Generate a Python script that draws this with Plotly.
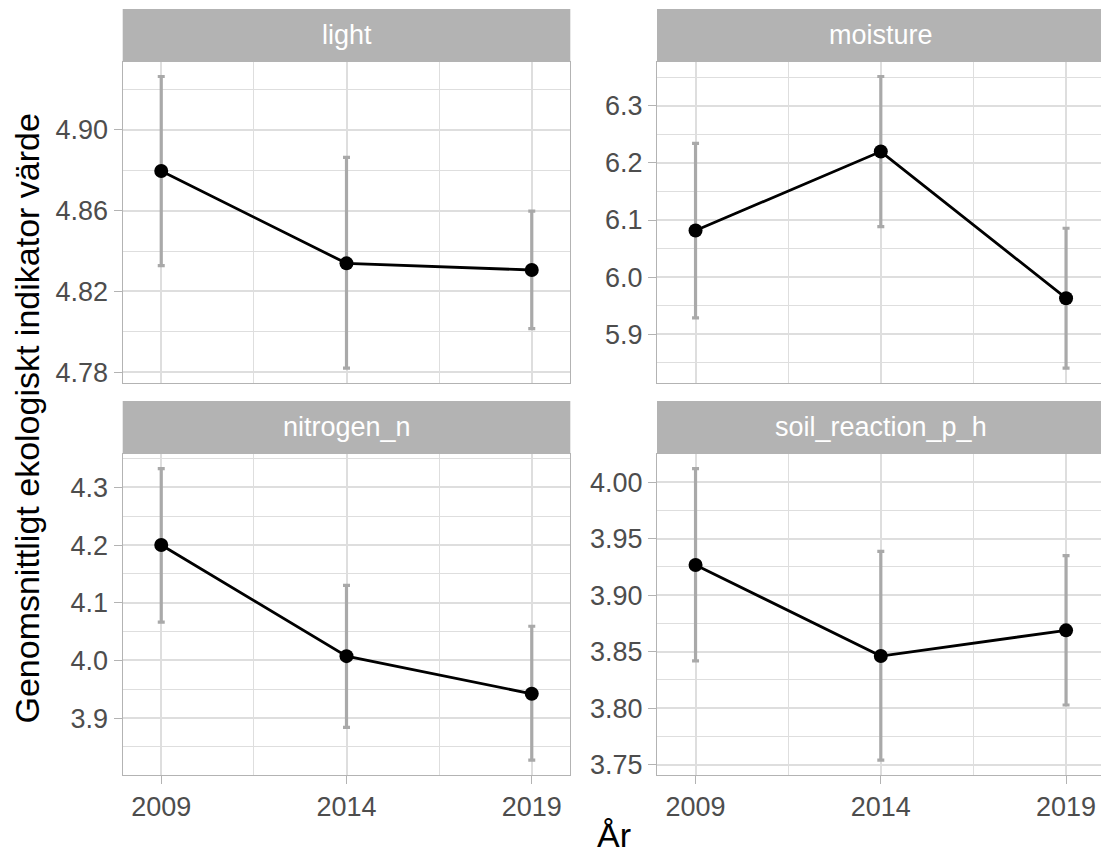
import plotly.graph_objects as go

# ---- data -------------------------------------------------------------
years = [2009, 2014, 2019]
year_labels = ["2009", "2014", "2019"]

panel_names = ["light", "moisture", "nitrogen_n", "soil_reaction_p_h"]

light_mean = [4.8796, 4.8339, 4.8306]
light_lower = [4.8328, 4.7820, 4.8016]
light_upper = [4.9264, 4.8864, 4.8598]

moisture_mean = [6.0816, 6.2199, 5.9631]
moisture_lower = [5.9288, 6.0885, 5.8406]
moisture_upper = [6.2343, 6.3513, 6.0856]

nitrogen_mean = [4.2000, 4.0074, 3.9422]
nitrogen_lower = [4.0664, 3.8840, 3.8271]
nitrogen_upper = [4.3325, 4.1302, 4.0593]

soil_mean = [3.9267, 3.8462, 3.8689]
soil_lower = [3.8419, 3.7541, 3.8029]
soil_upper = [4.0119, 3.9387, 3.9349]

light_ticks = ["4.78", "4.82", "4.86", "4.90"]
moisture_ticks = ["5.9", "6.0", "6.1", "6.2", "6.3"]
nitrogen_ticks = ["3.9", "4.0", "4.1", "4.2", "4.3"]
soil_ticks = ["3.75", "3.80", "3.85", "3.90", "3.95", "4.00"]

x_title = "År"
y_title = "Genomsnittligt ekologiskt indikator värde"

# ---- layout geometry (pixels) -----------------------------------------
W, H = 1101, 857
FONT = "Liberation Sans, Arial, sans-serif"
PANEL_W = 447.6
COL_X0 = [122.7, 657.0]
ROW_TOP = [62.3, 456.7]       # top of plotting area
ROW_BOT = [385.0, 779.3]      # bottom of plotting area
STRIP_TOP = [9.0, 403.3]
X_RANGE = [2007.96, 2020.04]

STRIP_FILL = "#B3B3B3"
BORDER = "#B3B3B3"
GRID = "#DEDEDE"
ERR = "#A9A9A9"
TICK_TEXT = "#4D4D4D"

panels = [
    (light_mean, light_lower, light_upper, light_ticks),
    (moisture_mean, moisture_lower, moisture_upper, moisture_ticks),
    (nitrogen_mean, nitrogen_lower, nitrogen_upper, nitrogen_ticks),
    (soil_mean, soil_lower, soil_upper, soil_ticks),
]


def px_x(p):
    return p / W


def px_y(p):
    return 1 - p / H


fig = go.Figure()
shapes = []
annotations = []
layout = {}

for i, (mean, lower, upper, ticks) in enumerate(panels):
    row, col = divmod(i, 2)
    n = "" if i == 0 else str(i + 1)
    xa, ya = "x" + n, "y" + n

    # x geometry: the right column runs past the canvas edge
    x0 = COL_X0[col]
    x1 = min(x0 + PANEL_W, W)
    span = X_RANGE[1] - X_RANGE[0]
    xr = [X_RANGE[0], X_RANGE[0] + span * (x1 - x0) / PANEL_W]

    # y range: data extent padded by 5% on each side
    lo, hi = min(lower), max(upper)
    pad = 0.05 * (hi - lo)
    yr = [lo - pad, hi + pad]

    tickvals = [float(t) for t in ticks]
    step = tickvals[1] - tickvals[0]

    fig.add_trace(go.Scatter(
        x=years, y=mean, xaxis=xa, yaxis=ya, mode="markers",
        marker=dict(size=1, color="rgba(0,0,0,0)"),
        error_y=dict(type="data", symmetric=False,
                     array=[u - m for u, m in zip(upper, mean)],
                     arrayminus=[m - l for m, l in zip(mean, lower)],
                     color=ERR, thickness=3.2, width=3.5),
        hoverinfo="skip", showlegend=False,
    ))
    fig.add_trace(go.Scatter(
        x=years, y=mean, xaxis=xa, yaxis=ya, mode="lines+markers",
        line=dict(color="black", width=2.8),
        marker=dict(size=14, color="black"),
        showlegend=False,
    ))

    bottom = row == 1
    layout["xaxis" + n] = dict(
        domain=[px_x(x0), px_x(x1)], range=xr, anchor=ya,
        tickmode="array", tickvals=years, ticktext=year_labels,
        showticklabels=bottom, ticks="outside" if bottom else "",
        ticklen=8, tickwidth=1.3, tickcolor=BORDER,
        tickfont=dict(family=FONT, size=27, color=TICK_TEXT),
        showgrid=True, gridcolor=GRID, gridwidth=1.5,
        minor=dict(tick0=years[0], dtick=2.5, showgrid=True,
                   gridcolor=GRID, gridwidth=0.8),
        showline=True, linecolor=BORDER, linewidth=1.3, mirror=True,
        zeroline=False, fixedrange=True,
    )
    layout["yaxis" + n] = dict(
        domain=[px_y(ROW_BOT[row]), px_y(ROW_TOP[row])], range=yr, anchor=xa,
        tickmode="array", tickvals=tickvals, ticktext=ticks,
        ticks="outside", ticklen=8, tickwidth=1.3, tickcolor=BORDER,
        tickfont=dict(family=FONT, size=27, color=TICK_TEXT),
        showgrid=True, gridcolor=GRID, gridwidth=1.5,
        minor=dict(tick0=tickvals[0], dtick=step / 2, showgrid=True,
                   gridcolor=GRID, gridwidth=0.8),
        showline=True, linecolor=BORDER, linewidth=1.3,
        mirror=(col == 0), zeroline=False, fixedrange=True,
    )

    # facet strip
    shapes.append(dict(
        type="rect", xref="paper", yref="paper", layer="above",
        x0=px_x(x0), x1=px_x(x1), y0=px_y(ROW_TOP[row]), y1=px_y(STRIP_TOP[row]),
        fillcolor=STRIP_FILL, line=dict(width=0),
    ))
    annotations.append(dict(
        text=panel_names[i], xref="paper", yref="paper",
        x=px_x(x0 + PANEL_W / 2), y=px_y((STRIP_TOP[row] + ROW_TOP[row]) / 2),
        xanchor="center", yanchor="middle", showarrow=False,
        font=dict(family=FONT, size=27, color="white"),
    ))

annotations.append(dict(
    text=y_title, xref="paper", yref="paper", x=px_x(27), y=px_y(421),
    xanchor="center", yanchor="middle", textangle=-90, showarrow=False,
    font=dict(family=FONT, size=34, color="black"),
))
annotations.append(dict(
    text=x_title, xref="paper", yref="paper", x=px_x(614), y=px_y(840),
    xanchor="center", yanchor="middle", showarrow=False,
    font=dict(family=FONT, size=34, color="black"),
))

fig.update_layout(
    width=W, height=H, autosize=False,
    margin=dict(l=0, r=0, t=0, b=0),
    paper_bgcolor="white", plot_bgcolor="white",
    shapes=shapes, annotations=annotations,
    hovermode=False, showlegend=False,
    **layout,
)

fig.write_html("out.html", config={"displayModeBar": False})
